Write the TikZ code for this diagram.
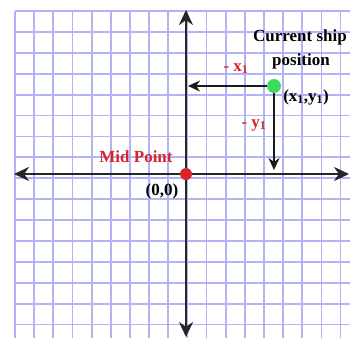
\documentclass[tikz,border=0pt]{standalone}
\usepackage{fontspec}
\setmainfont{Liberation Serif}
\usetikzlibrary{arrows.meta,positioning}
\definecolor{gridblue}{RGB}{178,178,246}
\definecolor{midred}{HTML}{D9242B}
\definecolor{shipgreen}{HTML}{3DDC5A}
\tikzset{
  gridline/.style={gridblue, line width=1.8pt},
  axis/.style={line width=2.5pt, black!85,
    {Stealth[length=15pt,width=14pt]}-{Stealth[length=15pt,width=14pt]}},
  move/.style={line width=1.7pt, black!90, -{Stealth[length=12pt,width=11pt]}},
  dot/.style={circle, inner sep=0pt},
  lbl/.style={font=\bfseries\fontsize{17}{17}\selectfont, inner sep=0pt, anchor=base},
}

\begin{document}
\begin{tikzpicture}[x=1pt,y=-1pt]
  \useasboundingbox (0,0) rectangle (350,338);
  % grid paper
  \foreach \i in {0,...,17}
    \draw[gridline] ({15+19.15*\i},11) -- ({15+19.15*\i},338);
  \foreach \j in {0,...,15}
    \draw[gridline] (15,{11+20.9*\j}) -- (350,{11+20.9*\j});
  % Axis ends
  \coordinate (top) at (186,10);
  \coordinate (bottom) at (186,337);
  \coordinate (left) at (14,174);
  \coordinate (right) at (349,174);
  \draw[axis] (left) -- (right);
  \draw[axis] (top) -- (bottom);
  % Define nodes
  \node[dot, fill=midred, minimum size=12pt] (origin) at (186,174) {};
  \node[dot, fill=shipgreen, minimum size=14pt] (ship) at (274,86) {};
  \coordinate (xfoot) at (188,86);
  \coordinate (yfoot) at (274,170);
  \node[lbl] (shiptitle) at (300,41.5) {Current ship};
  \node[lbl] (shippos) at (301,65) {position};
  \node[lbl] (shipxy) at (306,101) {(x\textsubscript{1},y\textsubscript{1})};
  \node[lbl, midred] (dx) at (236,71) {- x\textsubscript{1}};
  \node[lbl, midred] (dy) at (254,127) {- y\textsubscript{1}};
  \node[lbl, midred] (midname) at (136,162) {Mid Point};
  \node[lbl] (zero) at (162,195) {(0,0)};
  % Connect the nodes
  \draw[move] (ship) -- (xfoot);
  \draw[move] (ship) -- (yfoot);
\end{tikzpicture}
\end{document}
